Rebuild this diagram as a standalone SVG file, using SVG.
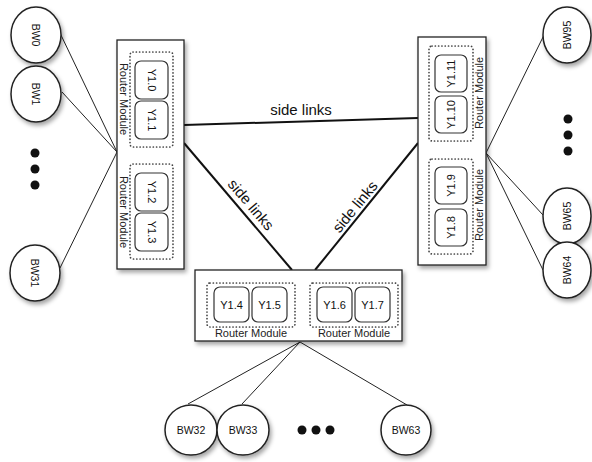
<svg xmlns="http://www.w3.org/2000/svg" width="592" height="462" viewBox="0 0 592 462">
  <style>
    .bg { fill: #ffffff; }
    .module { fill: #ffffff; stroke: #222222; stroke-width: 1.3; }
    .group { fill: none; stroke: #444444; stroke-width: 1.7; stroke-dasharray: 0.1 3.2; stroke-linecap: round; }
    .router { fill: #ffffff; stroke: #333333; stroke-width: 1.2; }
    .node { fill: #ffffff; stroke: #222222; stroke-width: 1.5; }
    .wire { fill: none; stroke: #222222; stroke-width: 1; }
    .side { fill: none; stroke: #111111; stroke-width: 2; }
    .dot { fill: #111111; }
    text { font-family: "Liberation Sans", Arial, sans-serif; fill: #111111; text-anchor: middle; }
    .rl { font-size: 11px; }
    .ml { font-size: 11px; fill: #222222; }
    .bw { font-size: 10.5px; }
    .sl { font-size: 15px; fill: #111111; }
  </style>
  <defs>
    <filter id="shadow" x="-20%" y="-20%" width="150%" height="150%">
      <feDropShadow dx="2" dy="3" stdDeviation="2" flood-color="#000000" flood-opacity="0.35"/>
    </filter>
  </defs>

  <rect class="bg" x="0" y="0" width="592" height="462"/>

  <!-- connectors -->
  <g id="connectors">
    <!-- left host links -->
    <line class="wire" x1="60" y1="33" x2="117" y2="152"/>
    <line class="wire" x1="62" y1="92" x2="117" y2="152"/>
    <line class="wire" x1="60" y1="268" x2="117" y2="152"/>
    <!-- right host links -->
    <line class="wire" x1="545" y1="33" x2="486" y2="153"/>
    <line class="wire" x1="543" y1="215" x2="486" y2="153"/>
    <line class="wire" x1="543" y1="270" x2="486" y2="153"/>
    <!-- bottom host links -->
    <line class="wire" x1="300" y1="342" x2="188" y2="404"/>
    <line class="wire" x1="300" y1="342" x2="242" y2="404"/>
    <line class="wire" x1="300" y1="342" x2="407" y2="405"/>
    <!-- side links -->
    <line class="side" x1="184" y1="125" x2="418" y2="118"/>
    <line class="side" x1="184" y1="143" x2="292" y2="270"/>
    <line class="side" x1="418" y1="143" x2="315" y2="270"/>
    <text class="sl" x="301" y="115">side links</text>
    <text class="sl" transform="translate(247,208) rotate(49.6)">side links</text>
    <text class="sl" transform="translate(359,210) rotate(-50.5)">side links</text>
  </g>

  <!-- left switch -->
  <g id="switch-left">
    <rect class="module" x="117" y="40" width="67" height="229" filter="url(#shadow)"/>
    <rect class="group" x="130" y="52" width="43" height="95" rx="3"/>
    <rect class="group" x="130" y="164" width="43" height="95" rx="3"/>
    <text class="ml" transform="translate(124,99) rotate(90)" y="4">Router Module</text>
    <text class="ml" transform="translate(124,212) rotate(90)" y="4">Router Module</text>
    <rect class="router" x="135" y="61" width="33" height="38" rx="6"/>
    <rect class="router" x="135" y="101" width="33" height="38" rx="6"/>
    <rect class="router" x="135" y="173" width="33" height="38" rx="6"/>
    <rect class="router" x="135" y="213" width="33" height="38" rx="6"/>
    <text class="rl" transform="translate(151.5,80) rotate(90)" y="4">Y1.0</text>
    <text class="rl" transform="translate(151.5,120) rotate(90)" y="4">Y1.1</text>
    <text class="rl" transform="translate(151.5,192) rotate(90)" y="4">Y1.2</text>
    <text class="rl" transform="translate(151.5,232) rotate(90)" y="4">Y1.3</text>
  </g>

  <!-- right switch -->
  <g id="switch-right">
    <rect class="module" x="418" y="37" width="68" height="228" filter="url(#shadow)"/>
    <rect class="group" x="429" y="46" width="44" height="95" rx="3"/>
    <rect class="group" x="429" y="159" width="44" height="95" rx="3"/>
    <text class="ml" transform="translate(479,93) rotate(-90)" y="4">Router Module</text>
    <text class="ml" transform="translate(479,205) rotate(-90)" y="4">Router Module</text>
    <rect class="router" x="435" y="55" width="32" height="37" rx="6"/>
    <rect class="router" x="435" y="96" width="32" height="37" rx="6"/>
    <rect class="router" x="435" y="167" width="32" height="37" rx="6"/>
    <rect class="router" x="435" y="209" width="32" height="37" rx="6"/>
    <text class="rl" transform="translate(451,73.5) rotate(-90)" y="4">Y1.11</text>
    <text class="rl" transform="translate(451,114.5) rotate(-90)" y="4">Y1.10</text>
    <text class="rl" transform="translate(451,185.5) rotate(-90)" y="4">Y1.9</text>
    <text class="rl" transform="translate(451,227.5) rotate(-90)" y="4">Y1.8</text>
  </g>

  <!-- bottom switch -->
  <g id="switch-bottom">
    <rect class="module" x="195" y="270" width="207" height="71" filter="url(#shadow)"/>
    <rect class="group" x="207" y="283" width="88" height="44" rx="3"/>
    <rect class="group" x="310" y="283" width="88" height="44" rx="3"/>
    <rect class="router" x="214" y="287" width="35" height="35" rx="6"/>
    <rect class="router" x="252" y="287" width="35" height="35" rx="6"/>
    <rect class="router" x="317" y="287" width="35" height="35" rx="6"/>
    <rect class="router" x="355" y="287" width="35" height="35" rx="6"/>
    <text class="rl" x="231.5" y="308.5">Y1.4</text>
    <text class="rl" x="269.5" y="308.5">Y1.5</text>
    <text class="rl" x="334.5" y="308.5">Y1.6</text>
    <text class="rl" x="372.5" y="308.5">Y1.7</text>
    <text class="ml" x="251" y="337">Router Module</text>
    <text class="ml" x="354" y="337">Router Module</text>
  </g>

  <!-- left hosts -->
  <g id="bw0">
    <ellipse class="node" cx="36" cy="35" rx="25" ry="28" filter="url(#shadow)"/>
    <text class="bw" transform="translate(36,35) rotate(90)" y="4">BW0</text>
  </g>
  <g id="bw1">
    <ellipse class="node" cx="36" cy="94" rx="25" ry="28" filter="url(#shadow)"/>
    <text class="bw" transform="translate(36,94) rotate(90)" y="4">BW1</text>
  </g>
  <g id="dots-left">
    <circle class="dot" cx="35" cy="153" r="4.5"/>
    <circle class="dot" cx="35" cy="169" r="4.5"/>
    <circle class="dot" cx="35" cy="185" r="4.5"/>
  </g>
  <g id="bw31">
    <ellipse class="node" cx="35" cy="273" rx="25" ry="28" filter="url(#shadow)"/>
    <text class="bw" transform="translate(35,273) rotate(90)" y="4">BW31</text>
  </g>

  <!-- right hosts -->
  <g id="bw95">
    <ellipse class="node" cx="567" cy="35" rx="24" ry="28" filter="url(#shadow)"/>
    <text class="bw" transform="translate(567,35) rotate(-90)" y="4">BW95</text>
  </g>
  <g id="dots-right">
    <circle class="dot" cx="568" cy="119" r="4.5"/>
    <circle class="dot" cx="568" cy="135" r="4.5"/>
    <circle class="dot" cx="568" cy="151" r="4.5"/>
  </g>
  <g id="bw65">
    <ellipse class="node" cx="567" cy="216" rx="24" ry="28" filter="url(#shadow)"/>
    <text class="bw" transform="translate(567,216) rotate(-90)" y="4">BW65</text>
  </g>
  <g id="bw64">
    <ellipse class="node" cx="567" cy="270" rx="24" ry="28" filter="url(#shadow)"/>
    <text class="bw" transform="translate(567,270) rotate(-90)" y="4">BW64</text>
  </g>

  <!-- bottom hosts -->
  <g id="bw32">
    <ellipse class="node" cx="191" cy="430" rx="26" ry="25" filter="url(#shadow)"/>
    <text class="bw" x="191" y="434">BW32</text>
  </g>
  <g id="bw33">
    <ellipse class="node" cx="243" cy="430" rx="26" ry="25" filter="url(#shadow)"/>
    <text class="bw" x="243" y="434">BW33</text>
  </g>
  <g id="dots-bottom">
    <circle class="dot" cx="302" cy="430" r="4.5"/>
    <circle class="dot" cx="316" cy="430" r="4.5"/>
    <circle class="dot" cx="330" cy="430" r="4.5"/>
  </g>
  <g id="bw63">
    <ellipse class="node" cx="406" cy="430" rx="25" ry="25" filter="url(#shadow)"/>
    <text class="bw" x="406" y="434">BW63</text>
  </g>
</svg>
